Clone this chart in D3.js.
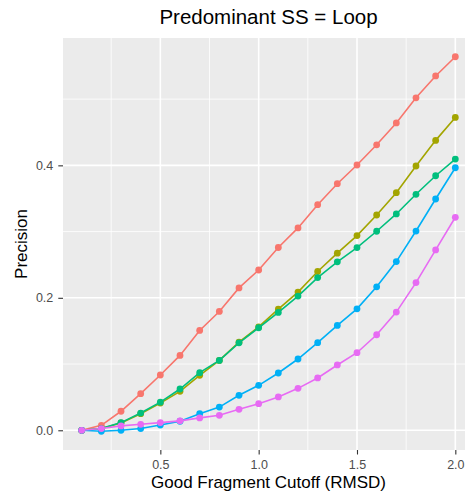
<!DOCTYPE html>
<html><head><meta charset="utf-8">
<script src="https://cdn.jsdelivr.net/npm/d3@7"></script>
<style>html,body{margin:0;padding:0;background:#fff;overflow:hidden}svg{display:block}</style>
</head><body>
<script>
const cutoffs = [0.1,0.2,0.3,0.4,0.5,0.6,0.7,0.8,0.9,1.0,1.1,1.2,1.3,1.4,1.5,1.6,1.7,1.8,1.9,2.0];
const seriesA = [0.0,0.0075,0.0287,0.0553,0.0835,0.113,0.1507,0.1794,0.215,0.242,0.276,0.3055,0.3406,0.3723,0.4005,0.431,0.464,0.502,0.535,0.564];
const seriesB = [0.0,0.0026,0.0110,0.025,0.041,0.0588,0.083,0.1055,0.133,0.156,0.183,0.2086,0.2397,0.2674,0.294,0.325,0.3587,0.399,0.4377,0.4723];
const seriesC = [0.0,0.0026,0.0116,0.026,0.0425,0.0623,0.087,0.1055,0.132,0.1548,0.178,0.2026,0.2306,0.2543,0.2758,0.3005,0.3266,0.3563,0.3843,0.4095];
const seriesD = [0.0,-0.0015,0.0,0.0026,0.008,0.0136,0.025,0.035,0.0528,0.0679,0.0865,0.1076,0.1322,0.1583,0.1834,0.2166,0.2547,0.3008,0.3492,0.3964];
const seriesE = [0.0,0.0026,0.0066,0.009,0.0116,0.0142,0.0187,0.0226,0.0317,0.0402,0.0503,0.0633,0.079,0.0986,0.1171,0.1442,0.1784,0.223,0.2723,0.3216];
const seriesColors = ["#F8766D","#A3A500","#00BF7D","#00B0F6","#E76BF3"];
const xTicks = [0.5,1.0,1.5,2.0];
const yTicks = [0.0,0.2,0.4];
const xMinor = [0.25,0.75,1.25,1.75];
const yMinor = [0.1,0.3,0.5];
const titleText = "Predominant SS = Loop";
const xTitle = "Good Fragment Cutoff (RMSD)";
const yTitle = "Precision";

const W = 465, H = 494;
const panel = {left: 63, top: 38, right: 474, bottom: 450};
const all = [seriesA,seriesB,seriesC,seriesD,seriesE];
const font = "'Liberation Sans', Arial, Helvetica, sans-serif";

const xmin = d3.min(cutoffs), xmax = d3.max(cutoffs);
const xpad = (xmax - xmin) * 0.05;
const ymin = d3.min(all.flat()), ymax = d3.max(all.flat());
const ypad = (ymax - ymin) * 0.05;
const x = d3.scaleLinear().domain([xmin - xpad, xmax + xpad]).range([panel.left, panel.right]);
const y = d3.scaleLinear().domain([ymin - ypad, ymax + ypad]).range([panel.bottom, panel.top]);

const svg = d3.select("body").append("svg").attr("width", W).attr("height", H);
svg.append("rect").attr("x", panel.left).attr("y", panel.top)
  .attr("width", panel.right - panel.left).attr("height", panel.bottom - panel.top).attr("fill", "#EBEBEB");

const g = svg.append("g");
g.selectAll(".xminor").data(xMinor).join("line").attr("x1", d=>x(d)).attr("x2", d=>x(d))
  .attr("y1", panel.top).attr("y2", panel.bottom).attr("stroke", "#fff").attr("stroke-width", 0.8);
g.selectAll(".yminor").data(yMinor).join("line").attr("y1", d=>y(d)).attr("y2", d=>y(d))
  .attr("x1", panel.left).attr("x2", panel.right).attr("stroke", "#fff").attr("stroke-width", 0.8);
g.selectAll(".xmajor").data(xTicks).join("line").attr("x1", d=>x(d)).attr("x2", d=>x(d))
  .attr("y1", panel.top).attr("y2", panel.bottom).attr("stroke", "#fff").attr("stroke-width", 1.6);
g.selectAll(".ymajor").data(yTicks).join("line").attr("y1", d=>y(d)).attr("y2", d=>y(d))
  .attr("x1", panel.left).attr("x2", panel.right).attr("stroke", "#fff").attr("stroke-width", 1.6);

const xAxis = svg.append("g").attr("transform", `translate(0,${panel.bottom})`)
  .call(d3.axisBottom(x).tickValues(xTicks).tickFormat(d3.format(".1f")).tickSize(4.5).tickPadding(6));
const yAxis = svg.append("g").attr("transform", `translate(${panel.left},0)`)
  .call(d3.axisLeft(y).tickValues(yTicks).tickFormat(d3.format(".1f")).tickSize(4.7).tickPadding(5));
[xAxis, yAxis].forEach(a => {
  a.select(".domain").remove();
  a.selectAll(".tick line").attr("stroke", "#333").attr("stroke-width", 1.1);
  a.selectAll(".tick text").attr("fill", "#4D4D4D").style("font-family", font).style("font-size", "12.5px");
});

const line = d3.line().x((d,i)=>x(cutoffs[i])).y(d=>y(d));
all.forEach((s, k) => {
  svg.append("path").datum(s).attr("d", line).attr("fill", "none")
    .attr("stroke", seriesColors[k]).attr("stroke-width", 1.6);
  svg.append("g").selectAll("circle").data(s).join("circle")
    .attr("cx", (d,i)=>x(cutoffs[i])).attr("cy", d=>y(d)).attr("r", 3.4)
    .attr("fill", seriesColors[k]);
});

svg.append("text").attr("x", (panel.left + panel.right)/2).attr("y", 23.5)
  .attr("text-anchor", "middle").style("font-family", font).style("font-size", "20.5px")
  .attr("fill", "#000").text(titleText);
svg.append("text").attr("x", (panel.left + panel.right)/2).attr("y", 488)
  .attr("text-anchor", "middle").style("font-family", font).style("font-size", "17px")
  .attr("fill", "#000").text(xTitle);
svg.append("text").attr("transform", `translate(26.5,${(panel.top+panel.bottom)/2}) rotate(-90)`)
  .attr("text-anchor", "middle").style("font-family", font).style("font-size", "17px")
  .attr("fill", "#000").text(yTitle);
</script>
</body></html>
